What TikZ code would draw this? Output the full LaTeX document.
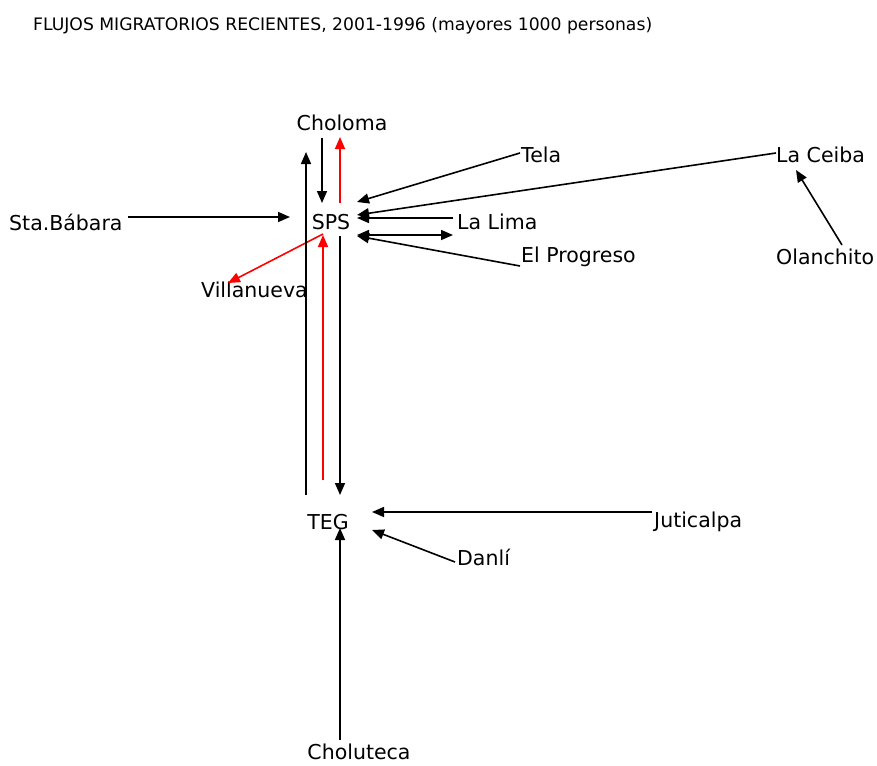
\documentclass[tikz,border=0pt]{standalone}
\usepackage{fontspec}
\setmainfont{DejaVu Sans}
\usetikzlibrary{arrows.meta}
\begin{document}
\begin{tikzpicture}[x=1pt,y=-1pt,
        place/.style={inner sep=0pt,font=\fontsize{20.5}{24}\selectfont},
        flow/.style={line width=1.6pt,-{Triangle[length=12pt,width=10pt]}},
        redflow/.style={flow,red}]
                \useasboundingbox (0,0) rectangle (877,765);
                \node[anchor=west,inner sep=0pt,font=\fontsize{17.2}{20}\selectfont] (title) at (33,26) {FLUJOS MIGRATORIOS RECIENTES, 2001-1996 (mayores 1000 personas)};
                \node[place] (choloma) at (342,123) {Choloma};
                \node[place] (sps) at (331,222) {SPS};
                \node[place,anchor=west] (stababara) at (9,222) {Sta.Bábara};
                \node[place,anchor=west] (villanueva) at (201,290) {Villanueva};
                \node[place,anchor=west] (tela) at (521,155) {Tela};
                \node[place,anchor=west] (laceiba) at (776,155) {La Ceiba};
                \node[place,anchor=west] (lalima) at (457,222) {La Lima};
                \node[place,anchor=west] (progreso) at (521,257) {El Progreso};
                \node[place,anchor=west] (olanchito) at (776,257) {Olanchito};
                \node[place] (teg) at (328,522) {TEG};
                \node[place,anchor=west] (juticalpa) at (654,522) {Juticalpa};
                \node[place,anchor=west] (danli) at (457,557) {Danlí};
                \node[place] (choluteca) at (359,752) {Choluteca};
                % around SPS
                \draw[flow] ([shift={(-20,15)}]choloma.center) -- ([shift={(-9,-19)}]sps.center);
                \draw[redflow] ([shift={(9,-19)}]sps.center) -- ([shift={(-2,14)}]choloma.center);
                \draw[flow] ([shift={(119,-5)}]stababara.west) -- ([shift={(-41,-5)}]sps.center);
                \draw[redflow] ([shift={(-8,12)}]sps.center) -- ([shift={(27,-7)}]villanueva.west);
                \draw[flow] ([shift={(-1,-2)}]tela.west) -- ([shift={(26,-20)}]sps.center);
                \draw[flow] ([shift={(0,-2)}]laceiba.west) -- ([shift={(26,-7)}]sps.center);
                \draw[flow] ([shift={(-4,-4)}]lalima.west) -- ([shift={(26,-4)}]sps.center);
                \draw[flow,{Triangle[length=12pt,width=10pt]}-{Triangle[length=12pt,width=10pt]}] ([shift={(26,13)}]sps.center) -- ([shift={(-4,13)}]lalima.west);
                \draw[flow] ([shift={(-1,9)}]progreso.west) -- ([shift={(26,14)}]sps.center);
                \draw[flow] ([shift={(66,-12)}]olanchito.west) -- ([shift={(20,15)}]laceiba.west);
                % SPS - TEG
                \draw[flow] ([shift={(-22,-27)}]teg.center) -- ([shift={(-36,29)}]choloma.center);
                \draw[flow] ([shift={(9,14)}]sps.center) -- ([shift={(12,-27)}]teg.center);
                \draw[redflow] ([shift={(-5,-42)}]teg.center) -- ([shift={(-8,13)}]sps.center);
                % around TEG
                \draw[flow] ([shift={(-2,-10)}]juticalpa.west) -- ([shift={(44,-10)}]teg.center);
                \draw[flow] ([shift={(-2,5)}]danli.west) -- ([shift={(44,8)}]teg.center);
                \draw[flow] ([shift={(-19,-12)}]choluteca.center) -- ([shift={(12,6)}]teg.center);
\end{tikzpicture}
\end{document}
